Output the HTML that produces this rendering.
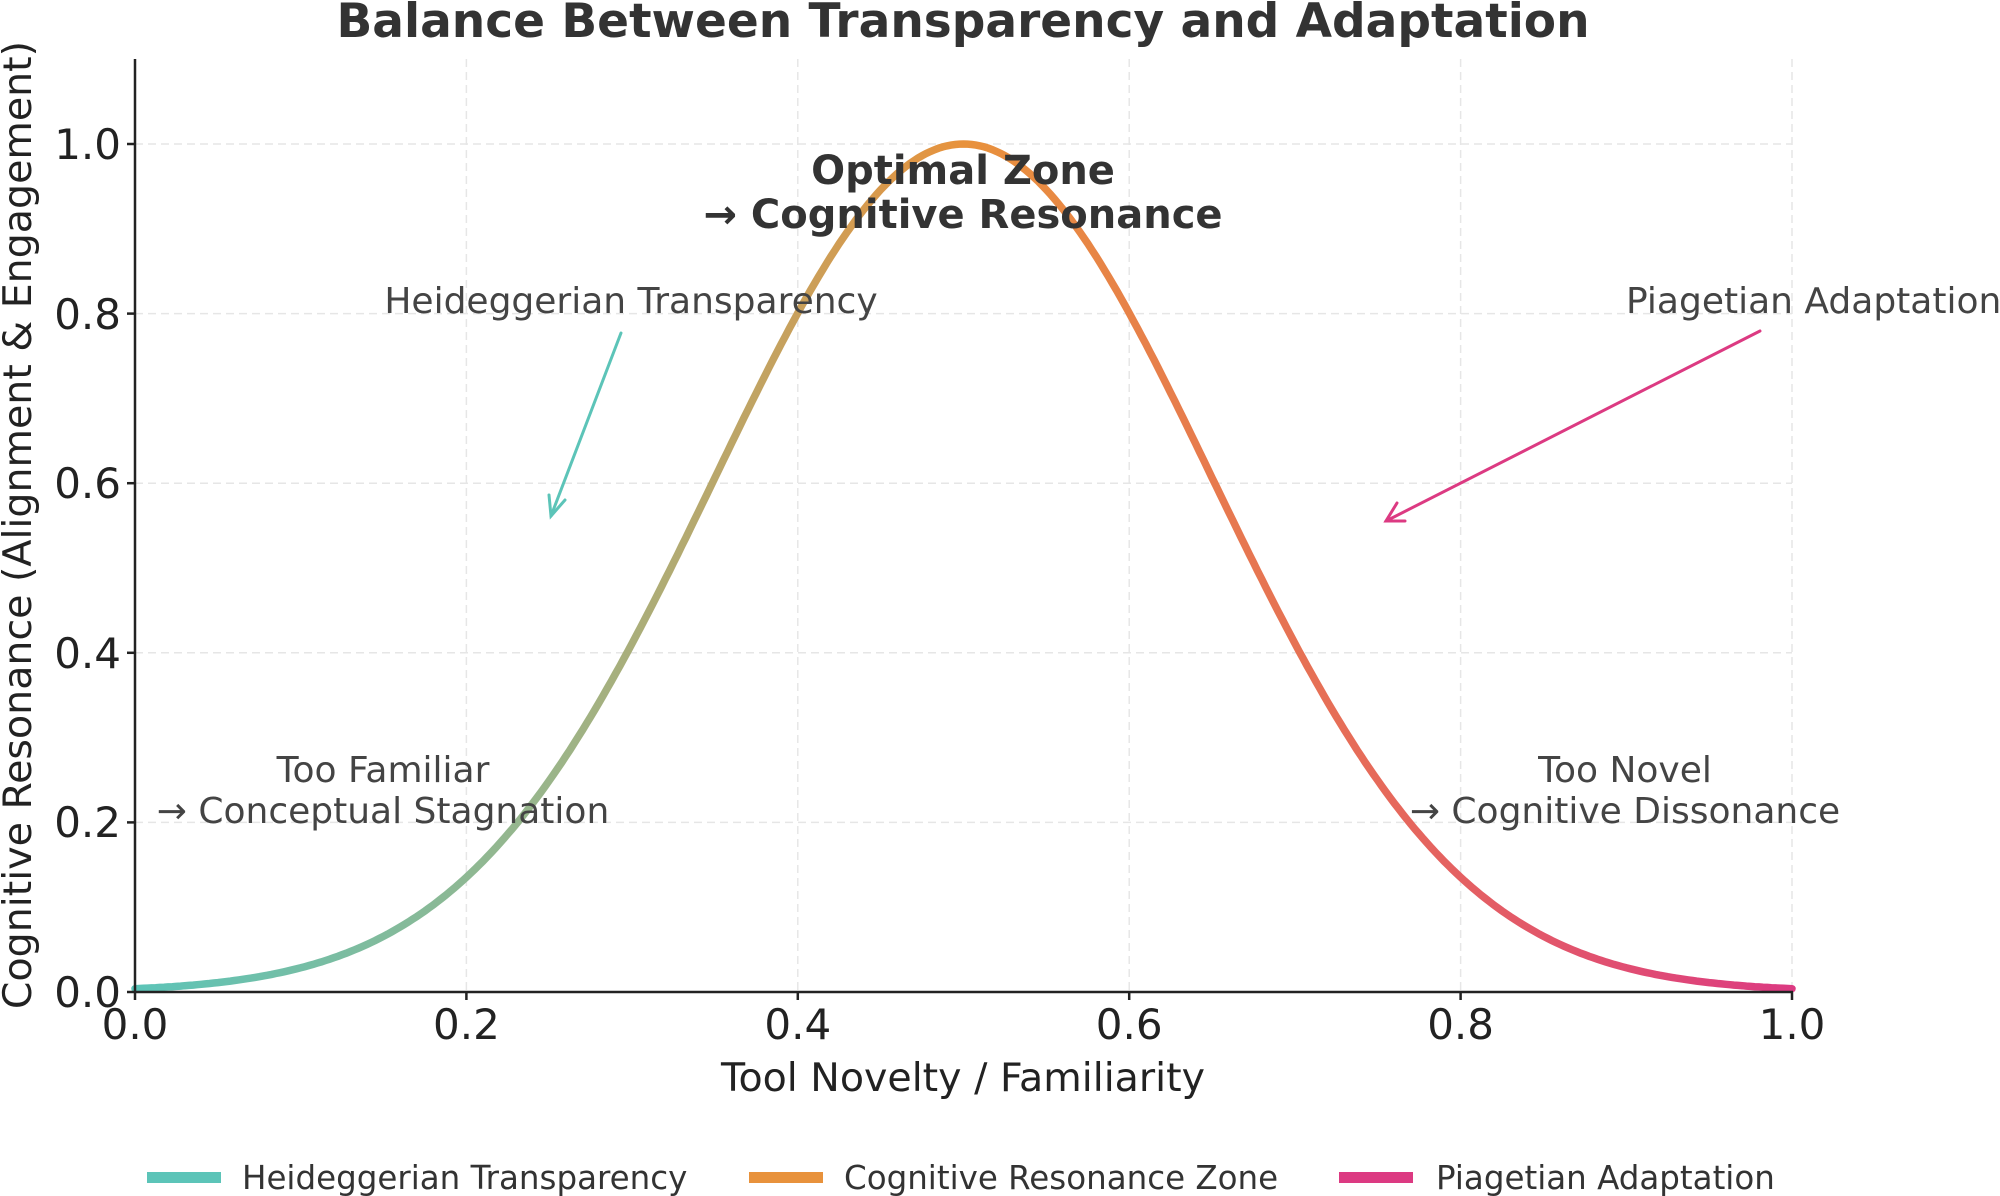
<!DOCTYPE html>
<html><head><meta charset="utf-8"><style>
html,body{margin:0;padding:0;background:#fff;}
svg{display:block;font-family:"DejaVu Sans","Liberation Sans",sans-serif;}
</style></head><body>
<svg id="s" width="2000" height="1196" viewBox="0 0 2000 1196" xmlns="http://www.w3.org/2000/svg">
<defs>
<linearGradient id="g" gradientUnits="userSpaceOnUse" x1="135" y1="0" x2="1792" y2="0">
<stop offset="0" stop-color="#5cc4b8"/>
<stop offset="0.25" stop-color="#9ab58a"/>
<stop offset="0.5" stop-color="#e8923c"/>
<stop offset="0.75" stop-color="#e66a5a"/>
<stop offset="1" stop-color="#dc3a82"/>
</linearGradient>
</defs>
<rect width="2000" height="1196" fill="#fff"/>
<g stroke="#e6e6e6" stroke-width="1.5" stroke-dasharray="8,5" fill="none">
<line x1="135" y1="822.4" x2="1792" y2="822.4"/>
<line x1="135" y1="652.8" x2="1792" y2="652.8"/>
<line x1="135" y1="483.2" x2="1792" y2="483.2"/>
<line x1="135" y1="313.6" x2="1792" y2="313.6"/>
<line x1="135" y1="144" x2="1792" y2="144"/>
<line x1="466.4" y1="59" x2="466.4" y2="992"/>
<line x1="797.8" y1="59" x2="797.8" y2="992"/>
<line x1="1129.2" y1="59" x2="1129.2" y2="992"/>
<line x1="1460.6" y1="59" x2="1460.6" y2="992"/>
<line x1="1792" y1="59" x2="1792" y2="992"/>
</g>
<path id="c" fill="none" stroke="url(#g)" stroke-width="7.5" stroke-linecap="round"/>
<g stroke="#222" stroke-width="2.5">
<line x1="135" y1="59" x2="135" y2="993"/>
<line x1="134" y1="992" x2="1793" y2="992"/>
<line x1="135" y1="992" x2="135" y2="1000"/><line x1="466.4" y1="992" x2="466.4" y2="1000"/><line x1="797.8" y1="992" x2="797.8" y2="1000"/><line x1="1129.2" y1="992" x2="1129.2" y2="1000"/><line x1="1460.6" y1="992" x2="1460.6" y2="1000"/><line x1="1792" y1="992" x2="1792" y2="1000"/>
<line x1="127" y1="992" x2="135" y2="992"/><line x1="127" y1="822.4" x2="135" y2="822.4"/><line x1="127" y1="652.8" x2="135" y2="652.8"/><line x1="127" y1="483.2" x2="135" y2="483.2"/><line x1="127" y1="313.6" x2="135" y2="313.6"/><line x1="127" y1="144" x2="135" y2="144"/>
</g>
<g font-size="42" fill="#222" text-anchor="end">
<text x="121" y="1007">0.0</text><text x="121" y="837">0.2</text><text x="121" y="668">0.4</text><text x="121" y="498">0.6</text><text x="121" y="329">0.8</text><text x="121" y="159">1.0</text>
</g>
<g font-size="42" fill="#222" text-anchor="middle">
<text x="135" y="1039">0.0</text><text x="466.4" y="1039">0.2</text><text x="797.8" y="1039">0.4</text><text x="1129.2" y="1039">0.6</text><text x="1460.6" y="1039">0.8</text><text x="1792" y="1039">1.0</text>
</g>
<text x="963" y="1091" font-size="39.5" fill="#222" text-anchor="middle">Tool Novelty / Familiarity</text>
<text transform="translate(31,525) rotate(-90)" font-size="39.5" fill="#222" text-anchor="middle">Cognitive Resonance (Alignment &amp; Engagement)</text>
<text x="963" y="37" font-size="47" font-weight="bold" fill="#333" text-anchor="middle">Balance Between Transparency and Adaptation</text>
<g font-size="40" font-weight="bold" fill="#333" text-anchor="middle">
<text x="963" y="184">Optimal Zone</text>
<text x="963" y="228">→ Cognitive Resonance</text>
</g>
<g font-size="36" fill="#444" text-anchor="middle">
<text x="631" y="313">Heideggerian Transparency</text>
<text x="383" y="782">Too Familiar</text>
<text x="383" y="823">→ Conceptual Stagnation</text>
<text x="1625" y="782">Too Novel</text>
<text x="1625" y="823">→ Cognitive Dissonance</text>
</g>
<text x="1626" y="313" font-size="36" fill="#444">Piagetian Adaptation</text>
<g stroke="#5cc4b8" stroke-width="3" fill="none" stroke-linecap="round">
<line x1="621" y1="333" x2="551" y2="516"/>
<polyline points="549,495 551,516 565,500"/>
</g>
<g stroke="#dc3a82" stroke-width="3" fill="none" stroke-linecap="round">
<line x1="1760" y1="331" x2="1386" y2="521"/>
<polyline points="1397,503 1386,521 1405,521"/>
</g>
<g font-size="32.5" fill="#333">
<rect x="147" y="1172" width="74" height="11" fill="#5cc4b8"/>
<text x="242" y="1189">Heideggerian Transparency</text>
<rect x="749" y="1172" width="74" height="11" fill="#e8923c"/>
<text x="844" y="1189">Cognitive Resonance Zone</text>
<rect x="1339" y="1172" width="74" height="11" fill="#dc3a82"/>
<text x="1436" y="1189">Piagetian Adaptation</text>
</g>
</svg>
<script>
var d="";for(var i=0;i<=400;i++){var x=i/400;var y=Math.exp(-Math.pow(x-0.5,2)/(2*0.15*0.15));var px=135+x*1657,py=992-y*848;d+=(i?"L":"M")+px.toFixed(1)+","+py.toFixed(1);}
document.getElementById("c").setAttribute("d",d);
</script>
</body></html>
